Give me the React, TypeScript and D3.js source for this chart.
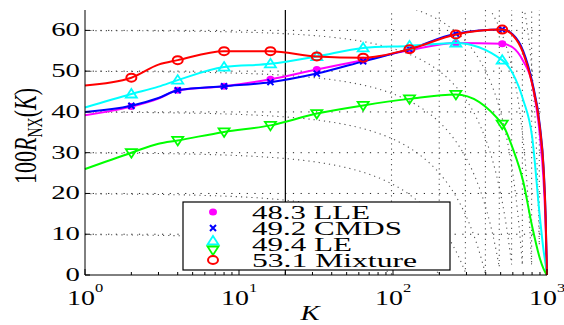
import React, { useEffect, useRef } from "react";
import * as d3 from "d3";

// neighbourhood sizes where the curves are sampled
const kValues = [1, 2, 3, 4, 8, 16, 32, 64, 128, 256, 512, 600, 700, 800, 900, 950, 980, 999];
// markers only at the powers of two
const markerK = [2, 4, 8, 16, 32, 64, 128, 256, 512];

const lleValues = [39.2, 41.3, 43.3, 45.3, 46.3, 48.0, 50.4, 52.7, 55.1, 56.9, 56.7, 55.8, 52.5, 47, 34, 23, 12, 0];
const cmdsValues = [40.0, 41.5, 43.4, 45.3, 46.3, 47.3, 49.4, 52.4, 55.4, 59.2, 60.2, 59, 55, 47.5, 36.5, 26.5, 14.5, 0];
const leValues = [41.1, 44.4, 46.2, 47.8, 51.0, 51.8, 53.6, 55.7, 56.2, 56.9, 52.7, 49.4, 43, 34, 14, 6, 2.5, 0];
const greenValues = [26.0, 30.0, 32.2, 33.0, 35.1, 36.7, 39.6, 41.6, 43.2, 44.3, 37.0, 31, 23, 12, 4, 1.5, 0.5, 0];
const mixtureValues = [46.5, 48.4, 51.6, 52.7, 54.9, 54.9, 53.6, 53.3, 55.4, 59.0, 60.2, 58.8, 54.5, 47, 36, 26, 14, 0];

const legendLabels = ["48.3 LLE", "49.2 CMDS", "49.4 LE", "53.1 Mixture"];
const yTicks = [0, 10, 20, 30, 40, 50, 60];
const xTicks = [1, 10, 100, 1000];
const xTickExp = ["0", "1", "2", "3"];
// Q_NX levels of the dotted guide curves
const isoLevels = [0.1, 0.2, 0.3, 0.4, 0.5, 0.6, 0.7, 0.8, 0.9];
const nMinus1 = 999;
const cutK = 20;

type Shape = "dot" | "x" | "up" | "down" | "circle";

const seriesList: { values: number[]; color: string; shape: Shape }[] = [
  { values: lleValues, color: "#ff00ff", shape: "dot" },
  { values: cmdsValues, color: "#0000ff", shape: "x" },
  { values: leValues, color: "#00ffff", shape: "up" },
  { values: greenValues, color: "#00ff00", shape: "down" },
  { values: mixtureValues, color: "#ff0000", shape: "circle" },
];

const drawMarker = (g: any, shape: Shape, color: string) => {
  if (shape === "dot") {
    g.append("ellipse").attr("rx", 4).attr("ry", 3.5).attr("fill", color);
  } else if (shape === "x") {
    g.append("path").attr("d", "M-3,-3L3,3M-3,3L3,-3")
      .attr("stroke", color).attr("stroke-width", 2).attr("fill", "none");
  } else if (shape === "up") {
    g.append("path").attr("d", "M0,-5L5.5,3.5L-5.5,3.5Z")
      .attr("stroke", color).attr("stroke-width", 1.8).attr("fill", "none");
  } else if (shape === "down") {
    g.append("path").attr("d", "M0,5L5.5,-3.5L-5.5,-3.5Z")
      .attr("stroke", color).attr("stroke-width", 1.8).attr("fill", "none");
  } else {
    g.append("ellipse").attr("rx", 5).attr("ry", 4)
      .attr("stroke", color).attr("stroke-width", 2).attr("fill", "none");
  }
};

const App = () => {
  const ref = useRef<SVGSVGElement>(null);

  useEffect(() => {
    const svg = d3.select(ref.current);
    svg.selectAll("*").remove();

    const left = 85, right = 547, top = 10, bottom = 275;
    const x = d3.scaleLog().domain([1, 1000]).range([left, right]);
    const y = d3.scaleLinear().domain([0, 65]).range([bottom, top]);
    const serif = "'Liberation Serif', 'Times New Roman', serif";

    svg.append("defs").append("clipPath").attr("id", "plotclip")
      .append("rect").attr("x", left).attr("y", top)
      .attr("width", right - left + 1).attr("height", bottom - top);

    // horizontal dotted grid
    svg.append("g").selectAll("line").data(yTicks.slice(1)).enter().append("line")
      .attr("x1", left).attr("x2", right)
      .attr("y1", d => y(d)).attr("y2", d => y(d))
      .attr("stroke", "#222").attr("stroke-width", 1)
      .attr("stroke-dasharray", "1.2,6.5");

    // iso-Q guide curves
    const kSamples = d3.range(0, Math.log10(998) + 0.001, 0.01).map(e => Math.pow(10, e));
    const isoLine = d3.line<[number, number]>().x(d => x(d[0])).y(d => y(d[1]));
    const iso = svg.append("g").attr("clip-path", "url(#plotclip)");
    isoLevels.forEach(q => {
      const pts: [number, number][] = kSamples
        .map(k => [k, (100 * (nMinus1 * q - k)) / (nMinus1 - k)] as [number, number])
        .filter(p => p[1] >= 0);
      iso.append("path").attr("d", isoLine(pts)!)
        .attr("fill", "none").attr("stroke", "#555").attr("stroke-width", 1.1)
        .attr("stroke-dasharray", "1.2,4");
    });

    // vertical marker at K = 20
    svg.append("line").attr("x1", x(cutK)).attr("x2", x(cutK))
      .attr("y1", top).attr("y2", bottom).attr("stroke", "#000").attr("stroke-width", 1.2);

    // series
    const line = d3.line<number>()
      .x((_, i) => x(kValues[i]))
      .y(d => y(d))
      .curve(d3.curveMonotoneX);
    seriesList.forEach(s => {
      svg.append("path").attr("d", line(s.values)!)
        .attr("fill", "none").attr("stroke", s.color).attr("stroke-width", 2);
      markerK.forEach(k => {
        const v = s.values[kValues.indexOf(k)];
        const g = svg.append("g").attr("transform", `translate(${x(k)},${y(v)})`);
        drawMarker(g, s.shape, s.color);
      });
    });

    // axes (inward ticks, no box)
    const axes = svg.append("g").attr("stroke", "#000").attr("stroke-width", 1);
    axes.append("line").attr("x1", left).attr("x2", left).attr("y1", top).attr("y2", bottom);
    axes.append("line").attr("x1", left).attr("x2", right).attr("y1", bottom).attr("y2", bottom);
    yTicks.forEach(t => {
      axes.append("line").attr("x1", left).attr("x2", left + 5).attr("y1", y(t)).attr("y2", y(t));
    });
    const minor: number[] = [];
    [1, 10, 100].forEach(dec => d3.range(2, 10).forEach(m => minor.push(dec * m)));
    minor.forEach(t => {
      axes.append("line").attr("x1", x(t)).attr("x2", x(t)).attr("y1", bottom).attr("y2", bottom - 3);
    });
    xTicks.forEach(t => {
      axes.append("line").attr("x1", x(t)).attr("x2", x(t)).attr("y1", bottom).attr("y2", bottom - 6);
    });

    // y tick labels
    yTicks.forEach(t => {
      svg.append("text")
        .attr("transform", `translate(80,${y(t) + 6}) scale(1.6,1)`)
        .attr("text-anchor", "end").attr("font-family", serif).attr("font-size", 18)
        .text(t);
    });

    // x tick labels 10^n
    xTicks.forEach((t, i) => {
      const g = svg.append("g").attr("transform", `translate(${x(t) - 18},305) scale(1.27,1)`);
      g.append("text").attr("font-family", serif).attr("font-size", 22).text("10");
      g.append("text").attr("x", 22).attr("y", -13)
        .attr("font-family", serif).attr("font-size", 13).text(xTickExp[i]);
    });

    // axis titles
    svg.append("text")
      .attr("transform", "translate(310,320) scale(1.3,1)")
      .attr("text-anchor", "middle").attr("font-family", serif)
      .attr("font-style", "italic").attr("font-size", 22).text("K");

    const yl = svg.append("text")
      .attr("transform", "translate(36,136) scale(1.45,1) rotate(-90)")
      .attr("text-anchor", "middle").attr("font-family", serif).attr("font-size", 22);
    yl.append("tspan").text("100");
    yl.append("tspan").attr("font-style", "italic").text("R");
    yl.append("tspan").attr("font-size", 14).attr("dy", 4).text("NX");
    yl.append("tspan").attr("dy", -4).text("(");
    yl.append("tspan").attr("font-style", "italic").text("K");
    yl.append("tspan").text(")");

    // legend
    const lg = svg.append("g");
    lg.append("rect").attr("x", 183).attr("y", 202).attr("width", 267).attr("height", 68)
      .attr("fill", "#fff").attr("stroke", "#000").attr("stroke-width", 1.2);
    const legendMarkY = [212, 228, 241, 250, 260];
    seriesList.forEach((s, i) => {
      const g = lg.append("g").attr("transform", `translate(213,${legendMarkY[i]})`);
      drawMarker(g, s.shape, s.color);
    });
    const legendWidths = [118, 150, 100, 165];
    legendLabels.forEach((label, i) => {
      lg.append("text").attr("x", 252).attr("y", 219 + i * 16)
        .attr("font-family", serif).attr("font-size", 19)
        .attr("textLength", legendWidths[i]).attr("lengthAdjust", "spacingAndGlyphs")
        .text(label);
    });
  }, []);

  return (
    <svg ref={ref} width={564} height={325}
      style={{ position: "absolute", left: 0, top: 0, background: "#fff" }} />
  );
};

export default App;
